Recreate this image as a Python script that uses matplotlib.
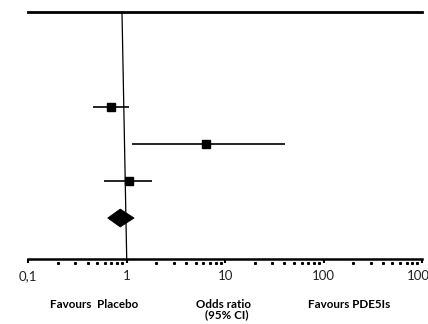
import numpy as np
import matplotlib
matplotlib.use("Agg")
import matplotlib.pyplot as plt
from matplotlib.patches import Polygon
from matplotlib.ticker import FixedLocator, FixedFormatter

# Study-level odds ratios with 95% CI (rows from top to bottom)
study_rows = [4, 3, 2]
study_or = [0.70, 6.35, 1.05]
study_lo = [0.45, 1.12, 0.59]
study_hi = [1.05, 40.3, 1.82]

# Pooled estimate (diamond)
pooled_row = 1
pooled_or = 0.86
pooled_lo = 0.64
pooled_hi = 1.19

tick_values = [0.1, 1, 10, 100, 1000]
tick_labels = ["0,1", "1", "10", "100", "1000"]

fig = plt.figure(figsize=(4.28, 3.24), dpi=100)
ax = fig.add_axes([28.3 / 428, 1 - 259.3 / 324, (422 - 28.3) / 428, (259.3 - 12) / 324])
ax.set_xscale("log")
ax.set_xlim(0.1, 1000)
ax.set_ylim(-0.12, 6.59)

# Line of no effect
ax.plot([0.895, 1.0], [6.59, -0.12], color="black", lw=0.9, zorder=1)

# Individual studies
for y, m, lo, hi in zip(study_rows, study_or, study_lo, study_hi):
    ax.plot([lo, hi], [y, y], color="black", lw=1.2, solid_capstyle="butt", zorder=2)
ax.plot(study_or, study_rows, linestyle="none", marker="s", ms=5.2,
        color="black", zorder=3)

# Pooled diamond
h = 0.245
diamond = Polygon([[pooled_lo, pooled_row], [pooled_or, pooled_row + h],
                   [pooled_hi, pooled_row], [pooled_or, pooled_row - h]],
                  closed=True, facecolor="black", edgecolor="black", lw=0.5, zorder=3)
ax.add_patch(diamond)

# Frame: thick top and bottom only
for side in ("left", "right"):
    ax.spines[side].set_visible(False)
ax.spines["top"].set_linewidth(2.0)
ax.spines["bottom"].set_linewidth(1.8)
ax.set_yticks([])

ax.xaxis.set_major_locator(FixedLocator(tick_values))
ax.xaxis.set_major_formatter(FixedFormatter(tick_labels))
ax.xaxis.set_minor_locator(FixedLocator([]))
ax.tick_params(axis="x", which="major", direction="out", length=3.0, width=1.5,
               pad=4.5, labelsize=9.5, labelcolor="#222222", top=False)
for lab in ax.get_xticklabels():
    lab.set_fontfamily("Lato")

# Dotted minor marks just below the axis line
minor = [m * d for d in [0.1, 1, 10, 100] for m in range(2, 10)]
ax.plot(minor, np.full(len(minor), -0.23), linestyle="none", marker="s",
        ms=1.2, color="black", clip_on=False,
        transform=ax.transData)

# Captions below the axis
fig.text(94 / 428, 1 - 304 / 324, "Favours  Placebo", ha="center", va="center",
         fontsize=8.4, fontweight="bold", family="Lato")
fig.text(224 / 428, 1 - 304 / 324, "Odds ratio", ha="center", va="center",
         fontsize=8.4, fontweight="bold", family="Lato")
fig.text(227 / 428, 1 - 314.5 / 324, "(95% CI)", ha="center", va="center",
         fontsize=8.4, fontweight="bold", family="Lato")
fig.text(349 / 428, 1 - 304 / 324, "Favours PDE5Is", ha="center", va="center",
         fontsize=8.4, fontweight="bold", family="Lato")

fig.savefig("out.png", dpi=100)
